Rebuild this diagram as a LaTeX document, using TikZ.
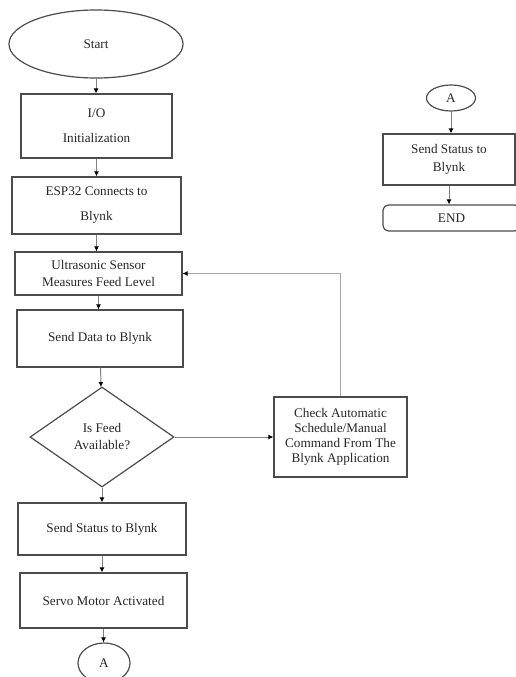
\documentclass[tikz,border=0pt]{standalone}
\usepackage{fontspec}
\setmainfont{Liberation Serif}
\usetikzlibrary{shapes.geometric,arrows.meta}
\definecolor{boxgray}{gray}{0.3}
\definecolor{linegray}{gray}{0.5}
\definecolor{textgray}{gray}{0.15}

\begin{document}
\begin{tikzpicture}[x=1pt,y=-1pt,
  every node/.style={font=\fontsize{13.2}{15}\selectfont, text=textgray, align=center, draw=boxgray, line width=1.2pt, inner sep=0pt},
  procbox/.style={rectangle},
  term/.style={ellipse},
  endbox/.style={rectangle, rounded corners=6pt},
  decide/.style={diamond},
  flow/.style={draw=linegray, line width=1pt, -{Latex[length=5pt,width=5pt,color=black]}}]
\clip (0,0) rectangle (516,677);
% main column
\node[term, minimum width=174, minimum height=68] (start) at (96,44) {Start};
\node[procbox, minimum width=151, minimum height=64] (io) at (96.5,126) {I/O\\[10pt]Initialization};
\node[procbox, minimum width=169, minimum height=57] (esp) at (96.5,205.5) {ESP32 Connects to\\[10pt]Blynk};
\node[procbox, minimum width=167, minimum height=43] (ultra) at (98.5,273.5) {Ultrasonic Sensor\\[2pt]Measures Feed Level};
\node[procbox, minimum width=166, minimum height=57] (data) at (100,338.5) {Send Data to Blynk};
\node[decide, minimum width=144, minimum height=100] (feed) at (102,437) {Is Feed\\[2pt]Available?};
\node[procbox, minimum width=168, minimum height=52] (status) at (102,529) {Send Status to Blynk};
\node[procbox, minimum width=167, minimum height=55] (servo) at (103.5,600.5) {Servo Motor Activated};
\node[term, minimum width=52, minimum height=40] (ca) at (104,663) {A};
% check box
\node[procbox, minimum width=133, minimum height=80] (check) at (340.5,437) {Check Automatic\\Schedule/Manual\\Command From The\\Blynk Application};
% right column
\node[term, minimum width=49, minimum height=26] (cb) at (451,98) {A};
\node[procbox, minimum width=132, minimum height=51] (rstatus) at (449,159.5) {Send Status to\\[3pt]Blynk};
\node[endbox, minimum width=137, minimum height=26] (stop) at (451.5,218) {END};

\draw[flow] (start) -- (start |- io.north);
\draw[flow] (io) -- (io |- esp.north);
\draw[flow] (esp) -- (esp |- ultra.north);
\draw[flow] (ultra) -- (ultra |- data.north);
\draw[flow] (data) -- (feed);
\draw[flow] (feed) -- (status);
\draw[flow] (status) -- (status |- servo.north);
\draw[flow] (servo) -- (servo |- ca.north);
\draw[flow] (feed) -- (check);
\draw[flow, draw=linegray!70] (check.north) |- (ultra.east);
\draw[flow] (cb) -- (cb |- rstatus.north);
\draw[flow] (rstatus) -- (rstatus |- stop.north);
\end{tikzpicture}
\end{document}
